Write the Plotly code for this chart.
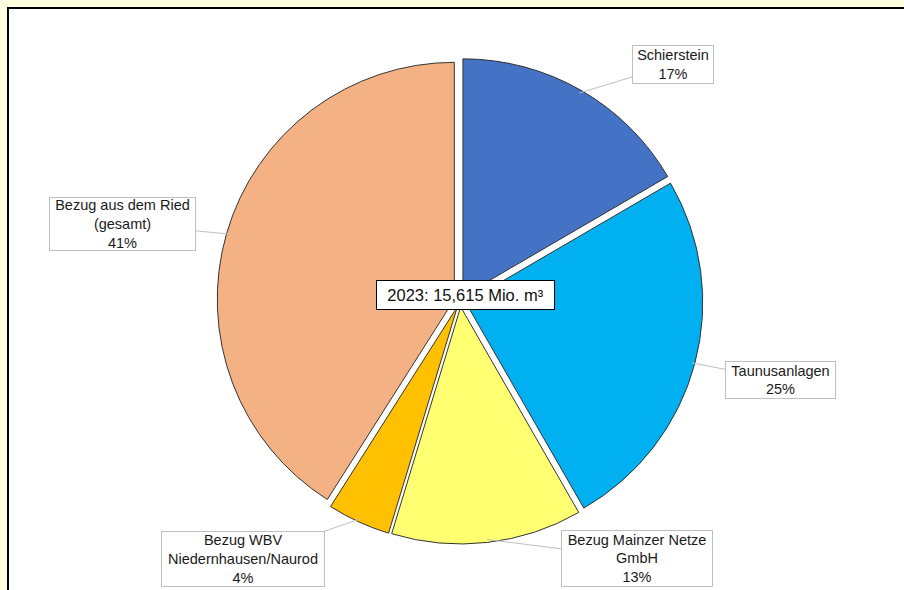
import numpy as np
import plotly.graph_objects as go

# ---------------- data ----------------
labels = ["Schierstein", "Taunusanlagen", "Bezug Mainzer Netze<br>GmbH",
          "Bezug WBV<br>Niedernhausen/Naurod", "Bezug aus dem Ried<br>(gesamt)"]
values = [16.6, 25.1, 13.0, 4.3, 41.0]
colors = ["#4472C4", "#00B0F0", "#FFFF71", "#FFC000", "#F4B183"]
center_label = "2023: 15,615 Mio. m³"

# label box layout (pixels: centre x, centre y, width, height)
boxes = [(673, 64.5, 82, 39), (780.5, 380, 111, 38), (637, 558.5, 152, 57),
         (243, 559, 164, 56), (122.5, 224, 147, 54)]

W, H = 904, 590
pull = 0.025
dom_x = [0.2400, 0.7777]
dom_y = [0.0780, 0.9016]

fig = go.Figure(go.Pie(
    labels=labels, values=values, sort=False, direction="clockwise", rotation=0,
    marker=dict(colors=colors, line=dict(color="#333333", width=1)),
    pull=[pull] * len(values), textinfo="none", hoverinfo="label+percent",
    domain=dict(x=dom_x, y=dom_y), showlegend=False,
))

# geometry of the pie (same formula plotly uses) to anchor the callouts
wpx = (dom_x[1] - dom_x[0]) * W
hpx = (dom_y[1] - dom_y[0]) * H
r = min(wpx, hpx) / (2 + 2 * pull)
cx = (dom_x[0] + dom_x[1]) / 2 * W
cy = (1 - (dom_y[0] + dom_y[1]) / 2) * H
vals = np.array(values, dtype=float)
cum = np.cumsum(vals) - vals / 2
mid = cum / vals.sum() * 2 * np.pi

annotations = []
for lab, v, th, (bx, by, bw, bh) in zip(labels, vals, mid, boxes):
    R = r * (1 + pull) - 3
    tx = cx + R * np.sin(th)
    ty = cy - R * np.cos(th)
    pct = round(v / vals.sum() * 100)
    annotations.append(dict(
        x=tx / W, y=1 - ty / H, xref="paper", yref="paper",
        ax=bx - tx, ay=by - ty, axref="pixel", ayref="pixel",
        text=f"{lab}<br>{pct}%", showarrow=True, arrowhead=0, arrowwidth=1,
        arrowcolor="#BFBFBF", bordercolor="#BFBFBF", borderwidth=1, borderpad=0,
        bgcolor="white", width=bw - 2, height=bh - 2, align="center",
        font=dict(family="Liberation Sans, Arial, sans-serif", size=14.5, color="#1a1a1a"),
    ))

annotations.append(dict(
    x=465.5 / W, y=1 - 295 / H, xref="paper", yref="paper", showarrow=False,
    text=center_label, bgcolor="white", bordercolor="black", borderwidth=1,
    borderpad=0, width=177, height=28,
    font=dict(family="Liberation Sans, Arial, sans-serif", size=16.5, color="#111111"),
))

fig.update_layout(
    width=W, height=H, margin=dict(l=0, r=0, t=0, b=0),
    paper_bgcolor="#FFFFE0", plot_bgcolor="white",
    annotations=annotations,
    shapes=[dict(type="rect", xref="paper", yref="paper", layer="below",
                 x0=8 / W, x1=1.05, y0=-0.05, y1=1 - 8 / H,
                 fillcolor="white", line=dict(color="black", width=2))],
)

fig.write_html("out.html")
